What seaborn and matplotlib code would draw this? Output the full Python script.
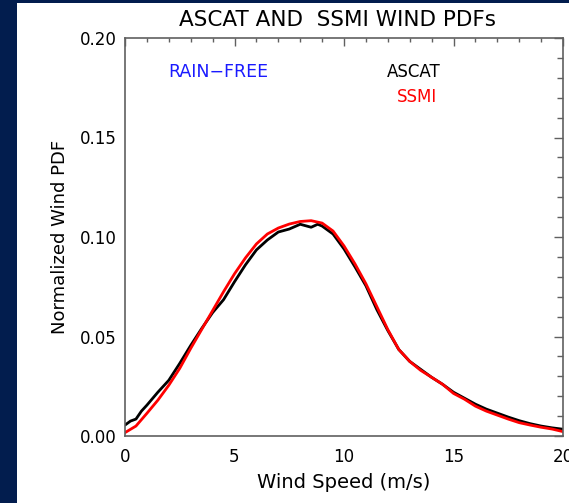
import numpy as np
import pandas as pd
import matplotlib
matplotlib.use("Agg")
import matplotlib.pyplot as plt
import seaborn as sns
from matplotlib.patches import Rectangle
from matplotlib.ticker import MultipleLocator

# ---- data ----
ascat_speed = [0.0, 0.25, 0.5, 0.75, 1.0, 1.5, 2.0, 2.5, 3.0, 3.5, 4.0, 4.5, 5.0, 5.5,
               6.0, 6.5, 7.0, 7.5, 8.0, 8.5, 8.8, 9.0, 9.5, 10.0, 10.5, 11.0, 11.5,
               12.0, 12.5, 13.0, 13.5, 14.0, 14.5, 15.0, 15.5, 16.0, 16.5, 17.0,
               17.5, 18.0, 18.5, 19.0, 19.5, 20.0]
ascat_pdf = [0.0055, 0.0075, 0.0085, 0.0125, 0.0155, 0.022, 0.028, 0.0365, 0.0455,
             0.054, 0.062, 0.0685, 0.0775, 0.086, 0.0935, 0.0985, 0.1025, 0.104,
             0.1064, 0.1049, 0.1064, 0.1055, 0.1015, 0.094, 0.085, 0.0755, 0.0635,
             0.053, 0.0435, 0.0375, 0.0335, 0.0295, 0.026, 0.022, 0.019, 0.016,
             0.0135, 0.0115, 0.0095, 0.0077, 0.0062, 0.005, 0.0041, 0.0034]

ssmi_speed = [0.0, 0.5, 1.0, 1.5, 2.0, 2.5, 3.0, 3.5, 4.0, 4.5, 5.0, 5.5, 6.0, 6.5,
              7.0, 7.5, 8.0, 8.5, 9.0, 9.5, 10.0, 10.5, 11.0, 11.5, 12.0, 12.5,
              13.0, 13.5, 14.0, 14.5, 15.0, 15.5, 16.0, 16.5, 17.0, 17.5, 18.0,
              18.5, 19.0, 19.5, 20.0]
ssmi_pdf = [0.0017, 0.005, 0.0114, 0.018, 0.0255, 0.034, 0.044, 0.0535, 0.063,
            0.0725, 0.0815, 0.0895, 0.0965, 0.1015, 0.1045, 0.1065, 0.1078, 0.1082,
            0.107, 0.103, 0.0955, 0.0865, 0.0765, 0.065, 0.0535, 0.0435, 0.0375,
            0.033, 0.0295, 0.026, 0.0214, 0.0185, 0.015, 0.0125, 0.0105, 0.0085,
            0.0067, 0.0055, 0.0044, 0.0035, 0.0022]

x_ticks = [0, 5, 10, 15, 20]
x_tick_labels = ["0", "5", "10", "15", "20"]
y_ticks = [0.00, 0.05, 0.10, 0.15, 0.20]
y_tick_labels = ["0.00", "0.05", "0.10", "0.15", "0.20"]

title = "ASCAT AND  SSMI WIND PDFs"
xlabel = "Wind Speed (m/s)"
ylabel = "Normalized Wind PDF"

# ---- plot ----
sns.set_theme(style="white")
plt.rcParams['font.family'] = ['DejaVu Sans']
plt.rcParams['text.color'] = 'black'
plt.rcParams['axes.labelcolor'] = 'black'
FS = 12

W, H = 569, 503
fig = plt.figure(figsize=(W / 100, H / 100), dpi=100)
fig.patch.set_facecolor("white")
navy = "#021d4e"
fig.patches.append(Rectangle((0, 0), 17 / W, 1, transform=fig.transFigure,
                             facecolor=navy, edgecolor="none", zorder=0))
fig.patches.append(Rectangle((0, 1 - 2.5 / H), 1, 2.5 / H, transform=fig.transFigure,
                             facecolor=navy, edgecolor="none", zorder=0))

ax = fig.add_axes([125 / W, 1 - 436 / H, (563 - 125) / W, (436 - 38) / H])

df_a = pd.DataFrame({"speed": ascat_speed, "pdf": ascat_pdf})
df_s = pd.DataFrame({"speed": ssmi_speed, "pdf": ssmi_pdf})
sns.lineplot(data=df_a, x="speed", y="pdf", ax=ax, color="black", lw=2.0,
             estimator=None, sort=False)
sns.lineplot(data=df_s, x="speed", y="pdf", ax=ax, color="#ff0000", lw=2.0,
             estimator=None, sort=False)

ax.set_xlim(0, 20)
ax.set_ylim(0, 0.20)
ax.set_xticks(x_ticks)
ax.set_xticklabels(x_tick_labels, fontsize=FS)
ax.set_yticks(y_ticks)
ax.set_yticklabels(y_tick_labels, fontsize=FS)
ax.xaxis.set_minor_locator(MultipleLocator(1))
ax.yaxis.set_minor_locator(MultipleLocator(0.01))

spine_col = "#606060"
for s in ax.spines.values():
    s.set_visible(True)
    s.set_color(spine_col)
    s.set_linewidth(1.2)

ax.tick_params(axis="both", which="both", direction="in", top=True, right=True,
               color=spine_col, width=1.0, labelcolor="black")
ax.tick_params(axis="x", which="major", length=5.5, pad=9)
ax.tick_params(axis="x", which="minor", length=3.2)
ax.tick_params(axis="y", which="major", length=6.5, pad=6)
ax.tick_params(axis="y", which="minor", length=4.0)

ax.set_xlabel(xlabel, fontsize=14, labelpad=5, color="black")
ax.set_ylabel(ylabel, fontsize=13, labelpad=8, color="black")
ax.set_title(title, fontsize=15.5, pad=9, color="black", x=0.485)

ax.text(1.96, 0.183, "RAIN\u2212FREE", color="#1a1aff", fontsize=12.5, va="center", ha="left")
ax.text(11.96, 0.183, "ASCAT", color="black", fontsize=FS, va="center", ha="left")
ax.text(12.42, 0.1705, "SSMI", color="#ff0000", fontsize=FS, va="center", ha="left")

fig.savefig("out.png", dpi=100)
